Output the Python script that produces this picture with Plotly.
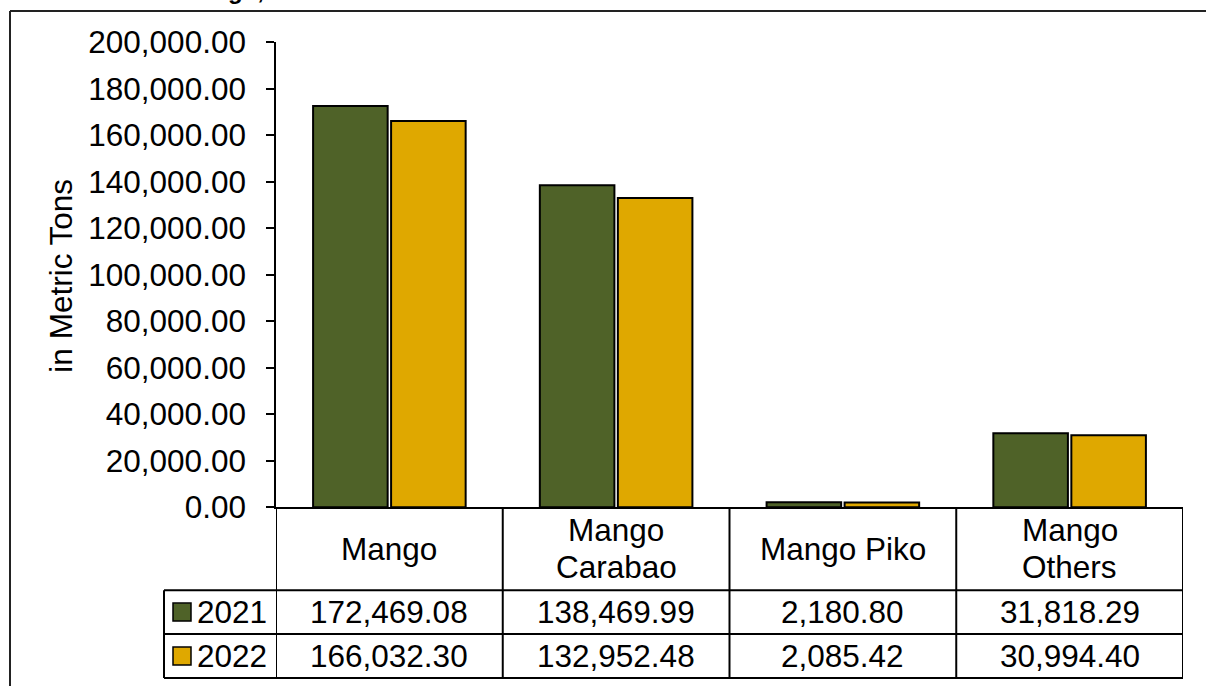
import plotly.graph_objects as go

# ---------------- data ----------------
categories = ["Mango", "Mango<br>Carabao", "Mango Piko", "Mango<br>Others"]
series_names = ["2021", "2022"]
values_2021 = [172469.08, 138469.99, 2180.80, 31818.29]
values_2022 = [166032.30, 132952.48, 2085.42, 30994.40]
y_tick_values = [0, 20000, 40000, 60000, 80000, 100000, 120000, 140000, 160000, 180000, 200000]
title_text = "Mango, 2021 and 2022"
y_title_text = "in Metric Tons"

# ---------------- style / layout ----------------
series_values = [values_2021, values_2022]
colors = ["#4F6228", "#DFA800"]
FONT = "Liberation Sans, Arial, sans-serif"
FS = 31.5

VS = 0.974            # vertical ratio between target pixels and page pixels
W = 1206
H = 704


def pg(y):
    """target pixel row -> page pixel row"""
    return y / VS


# plot area (target pixels)
PLOT_LEFT, PLOT_RIGHT, PLOT_TOP, PLOT_BOTTOM = 276, 1183, 41, 678
L = PLOT_LEFT
R = W - PLOT_RIGHT
T = pg(PLOT_TOP)
B = H - pg(PLOT_BOTTOM)
PW = PLOT_RIGHT - PLOT_LEFT
AXIS_Y = 507
HEADER_BOTTOM = 590
ROW_LINES = [590, 634, 678]
LEGEND_LEFT = 164


def px(x):
    return (x - PLOT_LEFT) / PW


def py(y):
    return (PLOT_BOTTOM - y) / (PLOT_BOTTOM - PLOT_TOP)


fig = go.Figure()
for name, vals, col in zip(series_names, series_values, colors):
    fig.add_trace(go.Bar(
        name=name,
        x=list(range(len(categories))),
        y=vals,
        marker=dict(color=col, line=dict(color="black", width=2)),
        hoverinfo="y+name",
    ))

shapes = []
annotations = []

# table vertical lines, at category boundaries
for i in range(len(categories) + 1):
    shapes.append(dict(type="line", xref="x", yref="paper",
                       x0=i - 0.5, x1=i - 0.5, y0=py(AXIS_Y), y1=py(ROW_LINES[-1]),
                       line=dict(color="black", width=2)))
# table horizontal lines
for yy in ROW_LINES:
    shapes.append(dict(type="line", xref="paper", yref="paper",
                       x0=px(LEGEND_LEFT), x1=1, y0=py(yy), y1=py(yy),
                       line=dict(color="black", width=2)))
# legend column left border
shapes.append(dict(type="line", xref="paper", yref="paper",
                   x0=px(LEGEND_LEFT), x1=px(LEGEND_LEFT),
                   y0=py(HEADER_BOTTOM), y1=py(ROW_LINES[-1]),
                   line=dict(color="black", width=2)))

# outer chart frame (cropped in reference)
shapes.append(dict(type="line", xref="paper", yref="paper",
                   x0=px(10), x1=px(10), y0=py(10), y1=py(720),
                   line=dict(color="#222222", width=2)))
shapes.append(dict(type="line", xref="paper", yref="paper",
                   x0=px(10), x1=px(1240), y0=py(10), y1=py(10),
                   line=dict(color="#222222", width=2)))

# category header text
header_mid = (AXIS_Y + HEADER_BOTTOM) / 2
for i, cat in enumerate(categories):
    lines = cat.split("<br>")
    n = len(lines)
    for k, ln in enumerate(lines):
        annotations.append(dict(
            text=ln, xref="x", yref="paper", x=i, y=py(header_mid),
            xanchor="center", yanchor="middle", showarrow=False,
            yshift=((n - 1) / 2 - k) * 36 / VS,
            font=dict(family=FONT, size=FS, color="black")))

# value rows
for r, (name, vals, col) in enumerate(zip(series_names, series_values, colors)):
    mid = (ROW_LINES[r] + ROW_LINES[r + 1]) / 2
    for i, v in enumerate(vals):
        annotations.append(dict(
            text=f"{v:,.2f}", xref="x", yref="paper", x=i, y=py(mid),
            xanchor="center", yanchor="middle", showarrow=False,
            font=dict(family=FONT, size=FS, color="black")))
    # legend key
    shapes.append(dict(type="rect", xref="paper", yref="paper",
                       x0=px(173), x1=px(191), y0=py(mid - 9), y1=py(mid + 9),
                       fillcolor=col, line=dict(color="black", width=1.5)))
    annotations.append(dict(
        text=name, xref="paper", yref="paper", x=px(195), y=py(mid),
        xanchor="left", yanchor="middle", showarrow=False,
        font=dict(family=FONT, size=FS, color="black")))

# y-axis title
annotations.append(dict(
    text=y_title_text, xref="paper", yref="paper", x=px(61), y=py(275),
    xanchor="center", yanchor="middle", textangle=-90, showarrow=False,
    font=dict(family=FONT, size=FS, color="black")))

# chart title (cut off at the top edge, as in the reference)
annotations.append(dict(
    text=f"<b>{title_text}</b>", xref="paper", yref="paper", x=px(178), y=py(5),
    xanchor="left", yanchor="bottom", showarrow=False,
    font=dict(family=FONT, size=24, color="black")))

fig.update_layout(
    width=W, height=H,
    margin=dict(l=L, r=R, t=T, b=B, pad=0),
    paper_bgcolor="white", plot_bgcolor="white",
    showlegend=False,
    barmode="group", bargap=0.312, bargroupgap=0.044,
    font=dict(family=FONT, size=FS, color="black"),
    xaxis=dict(range=[-0.5, len(categories) - 0.5], showticklabels=False,
               showline=True, linecolor="black", linewidth=2, ticks="",
               showgrid=False, zeroline=False, fixedrange=True),
    yaxis=dict(domain=[py(AXIS_Y), 1], range=[0, 200000],
               tickvals=y_tick_values, tickformat=",.2f",
               showline=True, linecolor="black", linewidth=1.5,
               ticks="outside", ticklen=8, tickwidth=1.5, tickcolor="black",
               ticklabelstandoff=14,
               tickfont=dict(family=FONT, size=FS, color="black"),
               showgrid=False, zeroline=False, fixedrange=True),
    shapes=shapes,
    annotations=annotations,
)

fig.write_html("out.html", config={"displayModeBar": False},
               post_script="document.body.style.margin='0';")
